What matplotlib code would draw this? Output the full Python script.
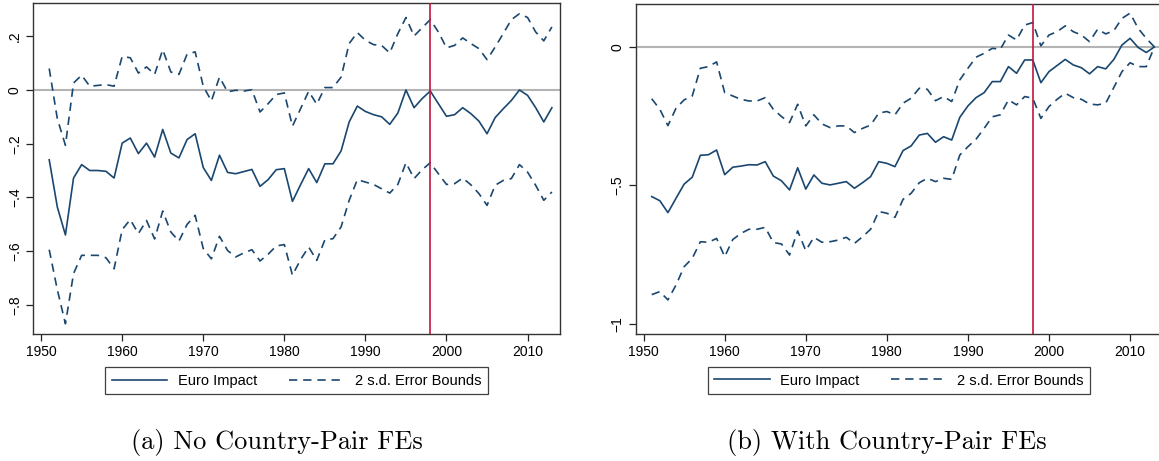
import matplotlib
matplotlib.use("Agg")
import matplotlib.pyplot as plt
import numpy as np

years = list(range(1951, 2014))

# Panel (a): No Country-Pair FEs
a_est = [-0.260, -0.436, -0.540, -0.328, -0.278, -0.300, -0.300, -0.303, -0.328, -0.198,
         -0.179, -0.237, -0.198, -0.250, -0.147, -0.235, -0.253, -0.185, -0.163, -0.289,
         -0.337, -0.243, -0.307, -0.312, -0.304, -0.296, -0.359, -0.334, -0.297, -0.293,
         -0.415, -0.353, -0.293, -0.345, -0.275, -0.275, -0.227, -0.119, -0.060, -0.080,
         -0.092, -0.100, -0.128, -0.086, 0.000, -0.066, -0.032, -0.004, -0.051, -0.098,
         -0.092, -0.066, -0.088, -0.116, -0.163, -0.103, -0.070, -0.039, 0.000, -0.020,
         -0.066, -0.119, -0.066]
a_upper = [0.080, -0.107, -0.206, 0.026, 0.055, 0.014, 0.017, 0.020, 0.014, 0.125,
           0.120, 0.063, 0.086, 0.058, 0.150, 0.067, 0.058, 0.133, 0.142, 0.014,
           -0.041, 0.048, -0.007, -0.001, -0.004, 0.001, -0.082, -0.051, -0.017, -0.011,
           -0.135, -0.070, -0.005, -0.053, 0.009, 0.009, 0.048, 0.173, 0.214, 0.185,
           0.169, 0.166, 0.138, 0.210, 0.270, 0.201, 0.232, 0.262, 0.216, 0.157,
           0.166, 0.194, 0.173, 0.154, 0.113, 0.160, 0.210, 0.262, 0.284, 0.270,
           0.216, 0.183, 0.235]
a_lower = [-0.595, -0.744, -0.871, -0.684, -0.616, -0.616, -0.616, -0.625, -0.666, -0.520,
           -0.483, -0.535, -0.486, -0.555, -0.451, -0.529, -0.563, -0.501, -0.467, -0.591,
           -0.629, -0.545, -0.598, -0.622, -0.607, -0.595, -0.637, -0.612, -0.581, -0.576,
           -0.690, -0.632, -0.585, -0.635, -0.558, -0.554, -0.510, -0.411, -0.334, -0.343,
           -0.352, -0.368, -0.384, -0.352, -0.271, -0.330, -0.297, -0.271, -0.312, -0.352,
           -0.349, -0.328, -0.353, -0.386, -0.430, -0.355, -0.337, -0.330, -0.278, -0.306,
           -0.355, -0.411, -0.380]

# Panel (b): With Country-Pair FEs
b_est = [-0.540, -0.555, -0.598, -0.546, -0.495, -0.470, -0.391, -0.389, -0.372, -0.461,
         -0.434, -0.430, -0.425, -0.426, -0.414, -0.466, -0.483, -0.516, -0.436, -0.513,
         -0.462, -0.492, -0.498, -0.492, -0.486, -0.510, -0.490, -0.468, -0.414, -0.420,
         -0.432, -0.374, -0.357, -0.318, -0.312, -0.344, -0.324, -0.336, -0.254, -0.213,
         -0.183, -0.165, -0.125, -0.125, -0.071, -0.095, -0.047, -0.047, -0.129, -0.089,
         -0.067, -0.045, -0.065, -0.075, -0.097, -0.071, -0.079, -0.045, 0.007, 0.031,
         -0.002, -0.020, 0.000]
b_upper = [-0.187, -0.225, -0.284, -0.221, -0.191, -0.177, -0.077, -0.071, -0.054, -0.165,
           -0.177, -0.189, -0.195, -0.195, -0.183, -0.225, -0.251, -0.273, -0.207, -0.285,
           -0.245, -0.278, -0.291, -0.285, -0.285, -0.309, -0.294, -0.282, -0.239, -0.233,
           -0.245, -0.203, -0.185, -0.149, -0.153, -0.194, -0.179, -0.197, -0.119, -0.077,
           -0.037, -0.023, -0.005, -0.008, 0.043, 0.025, 0.079, 0.088, 0.004, 0.043,
           0.055, 0.076, 0.055, 0.043, 0.019, 0.064, 0.047, 0.059, 0.103, 0.122,
           0.067, 0.031, 0.000]
b_lower = [-0.894, -0.883, -0.913, -0.859, -0.793, -0.763, -0.703, -0.705, -0.691, -0.757,
           -0.695, -0.673, -0.658, -0.658, -0.651, -0.706, -0.711, -0.751, -0.664, -0.735,
           -0.687, -0.705, -0.703, -0.697, -0.687, -0.709, -0.685, -0.658, -0.594, -0.600,
           -0.615, -0.550, -0.528, -0.490, -0.474, -0.486, -0.474, -0.478, -0.390, -0.360,
           -0.333, -0.294, -0.252, -0.245, -0.191, -0.209, -0.179, -0.185, -0.258, -0.215,
           -0.189, -0.167, -0.183, -0.189, -0.206, -0.209, -0.203, -0.146, -0.089, -0.057,
           -0.071, -0.071, 0.000]

x_ticks = [1950, 1960, 1970, 1980, 1990, 2000, 2010]
a_yticks = [-0.8, -0.6, -0.4, -0.2, 0.0, 0.2]
a_yticklabels = ["\u2212.8", "\u2212.6", "\u2212.4", "\u2212.2", "0", ".2"]
b_yticks = [-1.0, -0.5, 0.0]
b_yticklabels = ["\u22121", "\u2212.5", "0"]
euro_year = 1998
legend_labels = ["Euro Impact", "2 s.d. Error Bounds"]
captions = ["(a) No Country-Pair FEs", "(b) With Country-Pair FEs"]

plt.rcParams["font.family"] = ["Liberation Sans", "DejaVu Sans"]

W, H = 1159, 461
fig = plt.figure(figsize=(W / 100, H / 100), dpi=100)

navy = "#1a476f"
red = "#c3143f"


def make_axes(left, right, top, bottom):
    return fig.add_axes([left / W, 1 - bottom / H, (right - left) / W, (bottom - top) / H])


panels = [
    dict(box=(33, 560, 3, 334), est=a_est, up=a_upper, lo=a_lower,
         ylim=(-0.909, 0.324), yt=a_yticks, ytl=a_yticklabels, cap_x=277),
    dict(box=(635.5, 1162.5, 4, 334), est=b_est, up=b_upper, lo=b_lower,
         ylim=(-1.036, 0.155), yt=b_yticks, ytl=b_yticklabels, cap_x=887),
]

for i, p in enumerate(panels):
    ax = make_axes(*p["box"])
    ax.axhline(0, color="#b4b4b4", lw=1.5, zorder=1)
    l1, = ax.plot(years, p["est"], color=navy, lw=1.2, zorder=3)
    l2, = ax.plot(years, p["up"], color=navy, lw=1.2, ls=(0, (5, 3.5)), zorder=3)
    ax.plot(years, p["lo"], color=navy, lw=1.2, ls=(0, (5, 3.5)), zorder=3)
    ax.axvline(euro_year, color=red, lw=1.2, zorder=4)
    ax.set_xlim(1949, 2014)
    ax.set_ylim(*p["ylim"])
    ax.set_xticks(x_ticks)
    ax.set_xticklabels([str(t) for t in x_ticks], fontsize=10)
    ax.set_yticks(p["yt"])
    ax.set_yticklabels(p["ytl"], fontsize=10, rotation=90, va="center")
    ax.tick_params(axis="both", direction="out", length=5, width=0.9, color="#222222")
    ax.tick_params(axis="y", pad=3)
    ax.tick_params(axis="x", pad=3)
    for s in ax.spines.values():
        s.set_color("#333333")
        s.set_linewidth(1.0)
    leg = ax.legend([l1, l2], legend_labels, loc="upper center",
                    bbox_to_anchor=(0.5, -0.10), ncol=2, frameon=True,
                    fancybox=False, edgecolor="#111111", fontsize=10.5,
                    handlelength=3.8, handletextpad=0.7, columnspacing=2.2,
                    borderpad=0.45, borderaxespad=0)
    leg.get_frame().set_linewidth(0.9)
    fig.text(p["cap_x"] / W, 1 - 449 / H, captions[i], fontsize=19,
             family=["cmr10", "DejaVu Serif"], ha="center", va="baseline")

fig.savefig("out.png", dpi=100)
